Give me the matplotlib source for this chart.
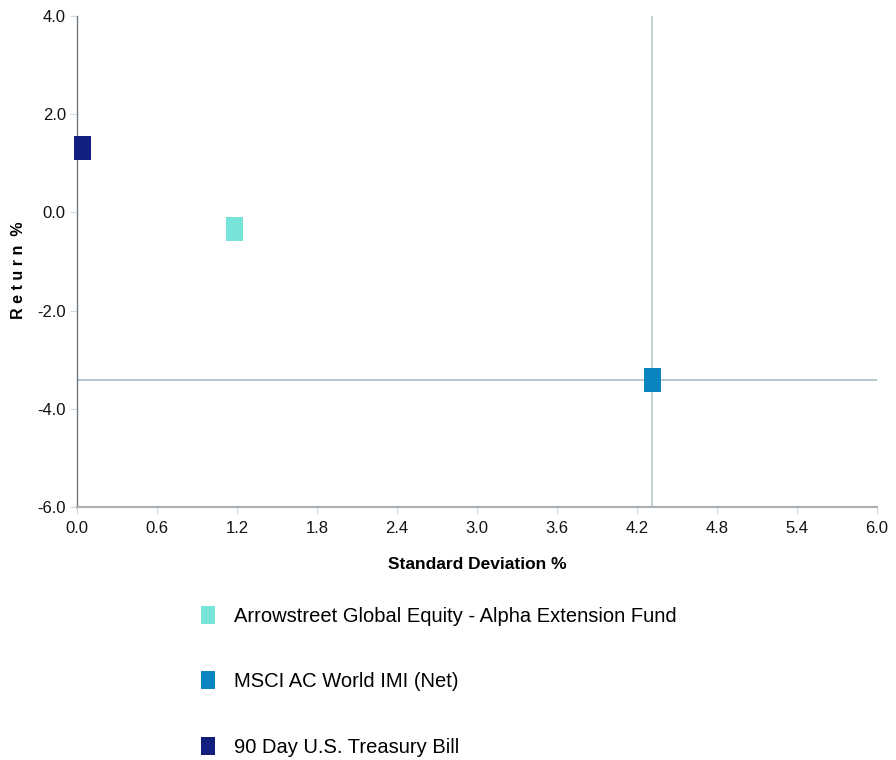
import matplotlib
matplotlib.use("Agg")
import matplotlib.pyplot as plt

# risk / return values
names = ["Arrowstreet Global Equity - Alpha Extension Fund",
         "MSCI AC World IMI (Net)",
         "90 Day U.S. Treasury Bill"]
std_dev = [1.18, 4.31, 0.04]
returns = [-0.34, -3.41, 1.31]
colors = ["#76E4D8", "#0A84BF", "#121E80"]

bench_std = 4.31
bench_ret = -3.41

x_ticks = [0.0, 0.6, 1.2, 1.8, 2.4, 3.0, 3.6, 4.2, 4.8, 5.4, 6.0]
y_ticks = [-6.0, -4.0, -2.0, 0.0, 2.0, 4.0]

narrow = ["Liberation Sans Narrow", "Liberation Sans", "DejaVu Sans"]

fig = plt.figure(figsize=(8.96, 7.6), dpi=100)
ax = fig.add_axes([0.0859, 0.3329, 0.8929, 0.646])

# crosshair through the benchmark
ax.axvline(bench_std, color="#BCC9D0", lw=1.2, zorder=1)
ax.axhline(bench_ret, color="#A9BCC4", lw=1.2, zorder=1)

# tall rectangle marker
rect = [(-0.72, -1), (0.72, -1), (0.72, 1), (-0.72, 1), (-0.72, -1)]
handles = []
for i in range(len(names)):
    h, = ax.plot(std_dev[i], returns[i], linestyle="none", marker=rect,
                 markersize=17, color=colors[i], markeredgewidth=0,
                 clip_on=False, zorder=3, label=names[i])
    handles.append(h)

ax.set_xlim(0, 6.0)
ax.set_ylim(-6.0, 4.0)
ax.set_xticks(x_ticks)
ax.set_xticklabels(["%.1f" % v for v in x_ticks])
ax.set_yticks(y_ticks)
ax.set_yticklabels(["%.1f" % v for v in y_ticks])

for lab in ax.get_xticklabels() + ax.get_yticklabels():
    lab.set_family(narrow)
    lab.set_fontsize(12)
    lab.set_color("#111111")

ax.tick_params(axis="both", length=5, width=0.8, color="#D5D9DC", pad=5)
ax.tick_params(axis="y", pad=3)

for s in ["top", "right"]:
    ax.spines[s].set_visible(False)
ax.spines["left"].set_color("#6E7880")
ax.spines["left"].set_linewidth(1.0)
ax.spines["bottom"].set_color("#A9B0B5")
ax.spines["bottom"].set_linewidth(1.5)

ax.set_xlabel("Standard Deviation %", family=narrow, fontsize=12.5,
              fontweight="bold", labelpad=15)
fig.text(0.021, 0.645, "R e t u r n  %", rotation=90, ha="center",
         va="center", family=["Liberation Sans", "DejaVu Sans"],
         fontsize=11.5, fontweight="bold")

leg = fig.legend(handles=handles, loc="upper left",
                 bbox_to_anchor=(0.213, 0.212), frameon=False,
                 prop={"family": narrow, "size": 14.5},
                 labelspacing=2.3, handletextpad=0.85, handlelength=0.9,
                 markerscale=0.8, borderaxespad=0)

fig.savefig("out.png", dpi=100)
